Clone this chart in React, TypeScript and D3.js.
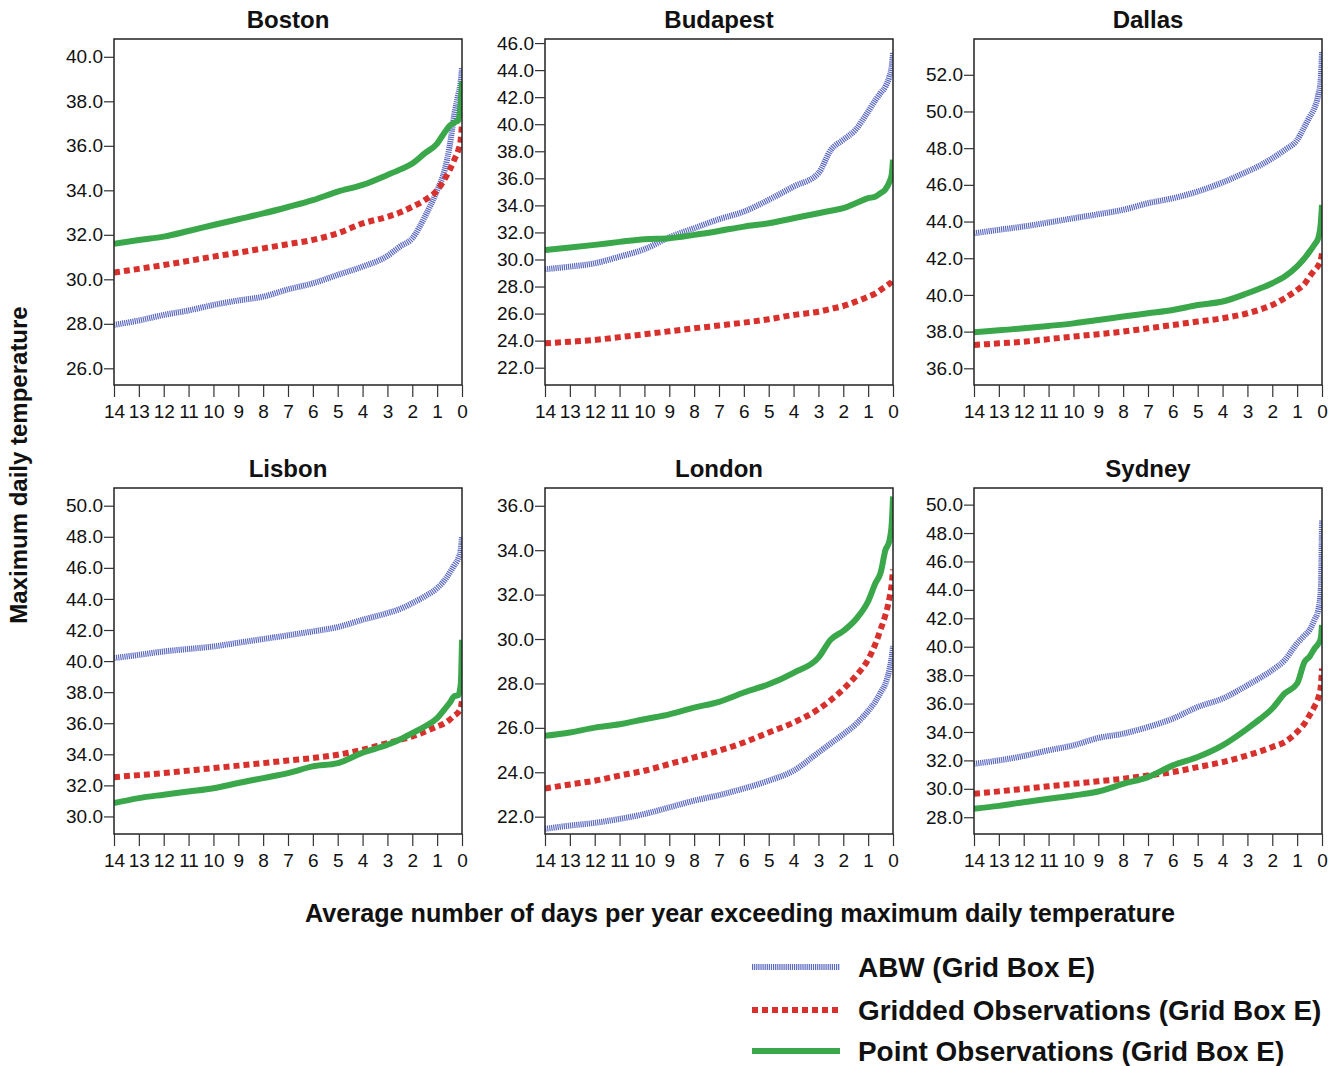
import React, { useEffect, useRef } from "react";
import * as d3 from "d3";

// days per year (x), shared by every series
const DAYS = [14, 13, 12, 11, 10, 9, 8, 7, 6, 5, 4, 3, 2.5, 2, 1.5, 1, 0.7, 0.5, 0.3, 0.15, 0.05, 0];
const X_TICKS = [14, 13, 12, 11, 10, 9, 8, 7, 6, 5, 4, 3, 2, 1, 0];

const CITIES = ["Boston", "Budapest", "Dallas", "Lisbon", "London", "Sydney"];

// y ranges
const Y_DOMAINS: [number, number][] = [
  [25.25, 40.8],
  [20.72, 46.3],
  [35.09, 53.95],
  [28.87, 51.14],
  [21.22, 36.8],
  [26.82, 51.17],
];
const Y_TICK_RANGES: [number, number][] = [
  [26, 40],
  [22, 46],
  [36, 52],
  [30, 50],
  [22, 36],
  [28, 50],
];

const ABW = [
  [27.95, 28.15, 28.4, 28.6, 28.85, 29.05, 29.22, 29.55, 29.82, 30.2, 30.57, 31.05, 31.47, 31.84, 32.8, 34.0, 34.9, 35.96, 37.46, 38.3, 38.9, 39.5],
  [29.28, 29.47, 29.72, 30.21, 30.76, 31.64, 32.31, 32.98, 33.54, 34.41, 35.39, 36.38, 38.1, 38.85, 39.6, 40.94, 41.8, 42.3, 42.8, 43.5, 44.3, 45.26],
  [43.36, 43.55, 43.73, 43.95, 44.18, 44.4, 44.64, 45.0, 45.27, 45.64, 46.13, 46.73, 47.05, 47.45, 47.9, 48.45, 49.18, 49.7, 50.2, 50.9, 51.8, 53.27],
  [40.19, 40.4, 40.62, 40.78, 40.94, 41.18, 41.42, 41.66, 41.91, 42.19, 42.66, 43.09, 43.35, 43.73, 44.16, 44.7, 45.2, 45.67, 46.2, 46.6, 47.2, 48.03],
  [21.45, 21.6, 21.72, 21.9, 22.12, 22.42, 22.72, 22.97, 23.27, 23.62, 24.07, 24.89, 25.3, 25.71, 26.16, 26.76, 27.2, 27.59, 28.0, 28.6, 29.2, 29.68],
  [31.76, 32.0, 32.31, 32.71, 33.06, 33.58, 33.88, 34.35, 34.94, 35.76, 36.35, 37.29, 37.8, 38.35, 39.06, 40.24, 40.8, 41.18, 41.9, 42.6, 44.0, 48.94],
];

const GRIDDED = [
  [30.3, 30.47, 30.64, 30.83, 31.02, 31.2, 31.39, 31.58, 31.77, 32.07, 32.51, 32.81, 33.0, 33.26, 33.56, 34.0, 34.5, 34.9, 35.4, 35.8, 36.3, 37.0],
  [23.8, 23.92, 24.05, 24.26, 24.47, 24.69, 24.91, 25.12, 25.33, 25.58, 25.9, 26.14, 26.35, 26.56, 26.88, 27.25, 27.5, 27.75, 28.0, 28.2, 28.35, 28.49],
  [37.27, 37.36, 37.45, 37.59, 37.73, 37.86, 38.0, 38.18, 38.36, 38.55, 38.73, 39.0, 39.2, 39.45, 39.82, 40.27, 40.6, 41.0, 41.35, 41.6, 41.9, 42.27],
  [32.53, 32.66, 32.79, 32.95, 33.11, 33.27, 33.43, 33.6, 33.76, 33.97, 34.29, 34.72, 34.93, 35.15, 35.45, 35.79, 36.0, 36.22, 36.5, 36.7, 37.0, 37.51],
  [23.27, 23.45, 23.62, 23.85, 24.07, 24.37, 24.67, 24.97, 25.34, 25.79, 26.24, 26.84, 27.25, 27.74, 28.33, 29.08, 29.8, 30.43, 31.1, 31.8, 32.5, 33.13],
  [29.65, 29.82, 30.0, 30.18, 30.35, 30.53, 30.71, 30.94, 31.18, 31.53, 31.88, 32.35, 32.62, 32.94, 33.29, 34.0, 34.6, 35.18, 35.8, 36.4, 37.2, 38.47],
];

const POINT = [
  [31.6, 31.77, 31.92, 32.17, 32.44, 32.7, 32.96, 33.25, 33.56, 33.94, 34.24, 34.69, 34.93, 35.2, 35.66, 36.1, 36.6, 36.9, 37.05, 37.15, 38.0, 38.9],
  [30.7, 30.88, 31.08, 31.3, 31.5, 31.57, 31.82, 32.11, 32.43, 32.68, 33.05, 33.42, 33.6, 33.79, 34.16, 34.53, 34.65, 34.9, 35.2, 35.7, 36.3, 37.37],
  [37.96, 38.07, 38.18, 38.31, 38.45, 38.63, 38.82, 39.0, 39.18, 39.45, 39.64, 40.09, 40.35, 40.64, 41.0, 41.55, 42.0, 42.36, 42.75, 43.1, 43.9, 44.9],
  [30.86, 31.18, 31.4, 31.61, 31.82, 32.15, 32.47, 32.79, 33.22, 33.43, 34.1, 34.61, 34.95, 35.36, 35.79, 36.33, 36.9, 37.3, 37.75, 37.8, 38.5, 41.37],
  [25.64, 25.79, 26.01, 26.16, 26.39, 26.61, 26.91, 27.17, 27.59, 27.96, 28.48, 29.16, 29.98, 30.36, 30.88, 31.7, 32.53, 32.98, 34.02, 34.4, 35.2, 36.42],
  [28.59, 28.8, 29.06, 29.3, 29.53, 29.81, 30.35, 30.82, 31.65, 32.24, 33.06, 34.24, 34.9, 35.65, 36.71, 37.41, 38.94, 39.3, 39.88, 40.2, 40.59, 41.53],
];

const SERIES_NAMES = [
  "ABW (Grid Box E)",
  "Gridded Observations (Grid Box E)",
  "Point Observations (Grid Box E)",
];

const FONT = "'Liberation Sans', Arial, sans-serif";

const STYLES = [
  { color: "#5a68c0", width: 6, dash: "1.2,0.9" },
  { color: "#d8302c", width: 6, dash: "6,4" },
  { color: "#3aa84a", width: 6, dash: null as string | null },
];

const App: React.FC = () => {
  const ref = useRef<SVGSVGElement | null>(null);

  useEffect(() => {
    const svg = d3.select(ref.current);
    svg.selectAll("*").remove();

    const colX = [114, 545, 974];
    const rowY = [39, 488];
    const pw = 348;
    const ph = 346;
    const allSeries = [ABW, GRIDDED, POINT];

    CITIES.forEach((city, i) => {
      const left = colX[i % 3];
      const top = rowY[Math.floor(i / 3)];
      const x = d3.scaleLinear().domain([14, 0]).range([left, left + pw]);
      const y = d3.scaleLinear().domain(Y_DOMAINS[i]).range([top + ph, top]);

      const g = svg.append("g");
      const clipId = "clip" + i;
      svg
        .append("clipPath")
        .attr("id", clipId)
        .append("rect")
        .attr("x", left)
        .attr("y", top)
        .attr("width", pw)
        .attr("height", ph);

      // series
      allSeries.forEach((s, k) => {
        const data = DAYS.map((d, j) => ({ d, v: s[i][j] }));
        const line = d3
          .line<{ d: number; v: number }>()
          .x((p) => x(p.d))
          .y((p) => y(p.v))
          .curve(d3.curveMonotoneX);
        const st = STYLES[k];
        const path = g
          .append("path")
          .datum(data)
          .attr("clip-path", `url(#${clipId})`)
          .attr("fill", "none")
          .attr("stroke", st.color)
          .attr("stroke-width", st.width)
          .attr("d", line);
        if (st.dash) path.attr("stroke-dasharray", st.dash);
      });

      // frame
      g.append("rect")
        .attr("x", left)
        .attr("y", top)
        .attr("width", pw)
        .attr("height", ph)
        .attr("fill", "none")
        .attr("stroke", "#222")
        .attr("stroke-width", 1.5);

      const [t0, t1] = Y_TICK_RANGES[i];
      const yAxis = d3
        .axisLeft(y)
        .tickValues(d3.range(t0, t1 + 0.01, 2))
        .tickFormat(d3.format(".1f"))
        .tickSize(10)
        .tickPadding(1)
        .tickSizeOuter(0);
      const ya = g.append("g").attr("transform", `translate(${left},0)`).call(yAxis);
      ya.select(".domain").remove();

      const xAxis = d3
        .axisBottom(x)
        .tickValues(X_TICKS)
        .tickFormat(d3.format("d"))
        .tickSize(12)
        .tickPadding(8)
        .tickSizeOuter(0);
      const xa = g.append("g").attr("transform", `translate(0,${top + ph})`).call(xAxis);
      xa.select(".domain").remove();

      [ya, xa].forEach((a) => {
        a.selectAll("line").attr("stroke", "#333").attr("stroke-width", 1.2);
        a.selectAll("text")
          .attr("font-family", FONT)
          .attr("font-size", 19)
          .attr("fill", "#111");
      });

      g.append("text")
        .attr("x", left + pw / 2)
        .attr("y", top - 11)
        .attr("text-anchor", "middle")
        .attr("font-family", FONT)
        .attr("font-weight", "bold")
        .attr("font-size", 24)
        .attr("fill", "#111")
        .text(city);
    });

    // axis titles
    svg
      .append("text")
      .attr("transform", "translate(27,465) rotate(-90)")
      .attr("text-anchor", "middle")
      .attr("font-family", FONT)
      .attr("font-weight", "bold")
      .attr("font-size", 24)
      .attr("fill", "#111")
      .text("Maximum daily temperature");

    svg
      .append("text")
      .attr("x", 740)
      .attr("y", 922)
      .attr("text-anchor", "middle")
      .attr("font-family", FONT)
      .attr("font-weight", "bold")
      .attr("font-size", 25.2)
      .attr("fill", "#111")
      .text("Average number of days per year exceeding maximum daily temperature");

    // legend
    const legendY = [967, 1010, 1051];
    SERIES_NAMES.forEach((name, k) => {
      const st = STYLES[k];
      const ln = svg
        .append("line")
        .attr("x1", 752)
        .attr("x2", 840)
        .attr("y1", legendY[k])
        .attr("y2", legendY[k])
        .attr("stroke", st.color)
        .attr("stroke-width", st.width);
      if (st.dash) ln.attr("stroke-dasharray", st.dash);
      svg
        .append("text")
        .attr("x", 858)
        .attr("y", legendY[k] + 10)
        .attr("font-family", FONT)
        .attr("font-weight", "bold")
        .attr("font-size", 27.9)
        .attr("fill", "#111")
        .text(name);
    });
  }, []);

  return (
    <svg
      ref={ref}
      width={1338}
      height={1066}
      style={{ position: "absolute", left: 0, top: 0, background: "#fff" }}
    />
  );
};

export default App;
